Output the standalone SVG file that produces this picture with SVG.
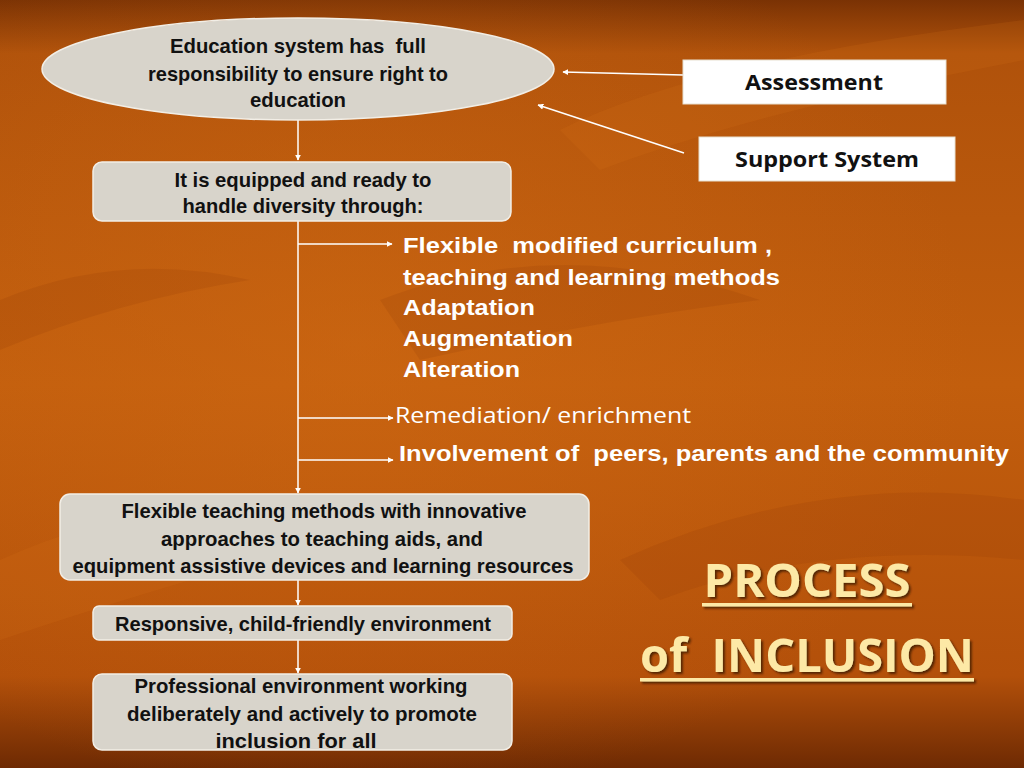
<svg xmlns="http://www.w3.org/2000/svg" width="1024" height="768" viewBox="0 0 1024 768">
<defs>
<linearGradient id="bg" x1="0" y1="0" x2="0" y2="1">
<stop offset="0" stop-color="#7a3204"/>
<stop offset="0.07" stop-color="#b0520b"/>
<stop offset="0.5" stop-color="#c25e0d"/>
<stop offset="0.88" stop-color="#b3500a"/>
<stop offset="1" stop-color="#6e2a03"/>
</linearGradient>
<radialGradient id="glow" cx="0.35" cy="0.45" r="0.6">
<stop offset="0" stop-color="#d06a14" stop-opacity="0.5"/>
<stop offset="1" stop-color="#d06a14" stop-opacity="0"/>
</radialGradient>
<marker id="ah" viewBox="0 0 10 10" refX="9" refY="5" markerWidth="6" markerHeight="6" markerUnits="userSpaceOnUse" orient="auto">
<path d="M0,0 L10,5 L0,10 z" fill="#ffffff"/>
</marker>
<filter id="sh" x="-5%" y="-5%" width="110%" height="120%">
<feDropShadow dx="2" dy="2" stdDeviation="1" flood-color="#3a1500" flood-opacity="0.8"/>
</filter>
</defs>
<style>
text{white-space:pre}
.node{fill:#d8d4cb;stroke:#f2eee6;stroke-width:1.5}
.nt{font-family:"Liberation Sans Narrow","Liberation Sans",Arial,sans-serif;font-weight:bold;font-size:20.5px;fill:#111;text-anchor:middle}
.wt{font-family:"Liberation Sans",Arial,sans-serif;font-weight:bold;font-size:22px;fill:#ffffff}
.ct{font-family:"Open Sans","Liberation Sans",sans-serif;font-size:22px;fill:#ffffff}
.side{fill:#ffffff;stroke:#e8e0d0;stroke-width:1}
.st{font-family:"Open Sans","Liberation Sans",sans-serif;font-weight:bold;font-size:21px;fill:#111;text-anchor:middle}
.conn{stroke:#ffffff;stroke-width:1.5;fill:none}
.title{font-family:"Open Sans","Liberation Sans",sans-serif;font-weight:bold;font-size:46px;fill:#fde9a6;text-anchor:middle}
</style>
<rect width="1024" height="768" fill="url(#bg)"/>
<rect width="1024" height="768" fill="url(#glow)"/>
<g id="bgleaves" opacity="0.15">
<path d="M560 130 Q700 60 1024 20 L1024 60 Q760 110 600 170 Z" fill="#e07a1e"/>
<path d="M380 300 Q560 230 760 300 Q600 320 420 360 Z" fill="#8a3606"/>
<path d="M0 560 Q200 470 420 520 Q240 560 0 640 Z" fill="#e07a1e"/>
<path d="M620 560 Q820 470 1024 500 L1024 560 Q820 540 660 600 Z" fill="#8a3606"/>
<path d="M0 300 Q120 250 250 280 Q120 300 0 350 Z" fill="#8a3606"/>
</g>
<g id="connectors">
<line class="conn" x1="298" y1="120" x2="298" y2="160" marker-end="url(#ah)"/>
<line class="conn" x1="298" y1="221" x2="298" y2="493" marker-end="url(#ah)"/>
<line class="conn" x1="298" y1="244" x2="392" y2="244" marker-end="url(#ah)"/>
<line class="conn" x1="298" y1="418" x2="393" y2="418" marker-end="url(#ah)"/>
<line class="conn" x1="298" y1="460" x2="393" y2="460" marker-end="url(#ah)"/>
<line class="conn" x1="298" y1="580" x2="298" y2="605" marker-end="url(#ah)"/>
<line class="conn" x1="298" y1="640" x2="298" y2="673" marker-end="url(#ah)"/>
<line class="conn" x1="683" y1="75" x2="563" y2="72" marker-end="url(#ah)"/>
<line class="conn" x1="684" y1="153" x2="538" y2="105" marker-end="url(#ah)"/>
</g>
<g id="n1">
<ellipse class="node" cx="298" cy="69" rx="256" ry="51"/>
<text class="nt" x="298" y="53" textLength="256" lengthAdjust="spacingAndGlyphs">Education system has  full</text>
<text class="nt" x="298" y="81" textLength="300" lengthAdjust="spacingAndGlyphs">responsibility to ensure right to</text>
<text class="nt" x="298" y="107" textLength="96" lengthAdjust="spacingAndGlyphs">education</text>
</g>
<g id="n2">
<rect class="node" x="93" y="162" width="418" height="59" rx="9"/>
<text class="nt" x="303" y="187" textLength="257" lengthAdjust="spacingAndGlyphs">It is equipped and ready to</text>
<text class="nt" x="303" y="213" textLength="241" lengthAdjust="spacingAndGlyphs">handle diversity through:</text>
</g>
<g id="n3">
<text class="wt" x="403" y="253" textLength="369" lengthAdjust="spacingAndGlyphs">Flexible  modified curriculum ,</text>
<text class="wt" x="403" y="285" textLength="377" lengthAdjust="spacingAndGlyphs">teaching and learning methods</text>
<text class="wt" x="403" y="315" textLength="132" lengthAdjust="spacingAndGlyphs">Adaptation</text>
<text class="wt" x="403" y="346" textLength="170" lengthAdjust="spacingAndGlyphs">Augmentation</text>
<text class="wt" x="403" y="377" textLength="117" lengthAdjust="spacingAndGlyphs">Alteration</text>
</g>
<g id="n4">
<text class="ct" x="395" y="423" textLength="296" lengthAdjust="spacingAndGlyphs">Remediation/ enrichment</text>
</g>
<g id="n5">
<text class="wt" x="399" y="461" textLength="610" lengthAdjust="spacingAndGlyphs">Involvement of  peers, parents and the community</text>
</g>
<g id="n6">
<rect class="node" x="60" y="494" width="529" height="86" rx="10"/>
<text class="nt" x="324" y="518" textLength="405" lengthAdjust="spacingAndGlyphs">Flexible teaching methods with innovative</text>
<text class="nt" x="322" y="546" textLength="322" lengthAdjust="spacingAndGlyphs">approaches to teaching aids, and</text>
<text class="nt" x="323" y="573" textLength="501" lengthAdjust="spacingAndGlyphs">equipment assistive devices and learning resources</text>
</g>
<g id="n7">
<rect class="node" x="93" y="606" width="419" height="34" rx="6"/>
<text class="nt" x="303" y="631" textLength="376" lengthAdjust="spacingAndGlyphs">Responsive, child-friendly environment</text>
</g>
<g id="n8">
<rect class="node" x="93" y="674" width="419" height="76" rx="9"/>
<text class="nt" x="301" y="693" textLength="333" lengthAdjust="spacingAndGlyphs">Professional environment working</text>
<text class="nt" x="302" y="721" textLength="350" lengthAdjust="spacingAndGlyphs">deliberately and actively to promote</text>
<text class="nt" x="296" y="748" textLength="161" lengthAdjust="spacingAndGlyphs">inclusion for all</text>
</g>
<g id="assessment">
<rect class="side" x="683" y="60" width="263" height="44"/>
<text class="st" x="814" y="90" textLength="138" lengthAdjust="spacingAndGlyphs">Assessment</text>
</g>
<g id="support">
<rect class="side" x="699" y="137" width="256" height="44"/>
<text class="st" x="827" y="167" textLength="184" lengthAdjust="spacingAndGlyphs">Support System</text>
</g>
<g id="title" filter="url(#sh)">
<text class="title" x="807" y="597" textLength="207" lengthAdjust="spacingAndGlyphs">PROCESS</text>
<rect x="702" y="603" width="210" height="3.5" fill="#fde9a6"/>
<text class="title" x="807" y="672" textLength="334" lengthAdjust="spacingAndGlyphs">of  INCLUSION</text>
<rect x="640" y="678" width="334" height="3.5" fill="#fde9a6"/>
</g>
</svg>
